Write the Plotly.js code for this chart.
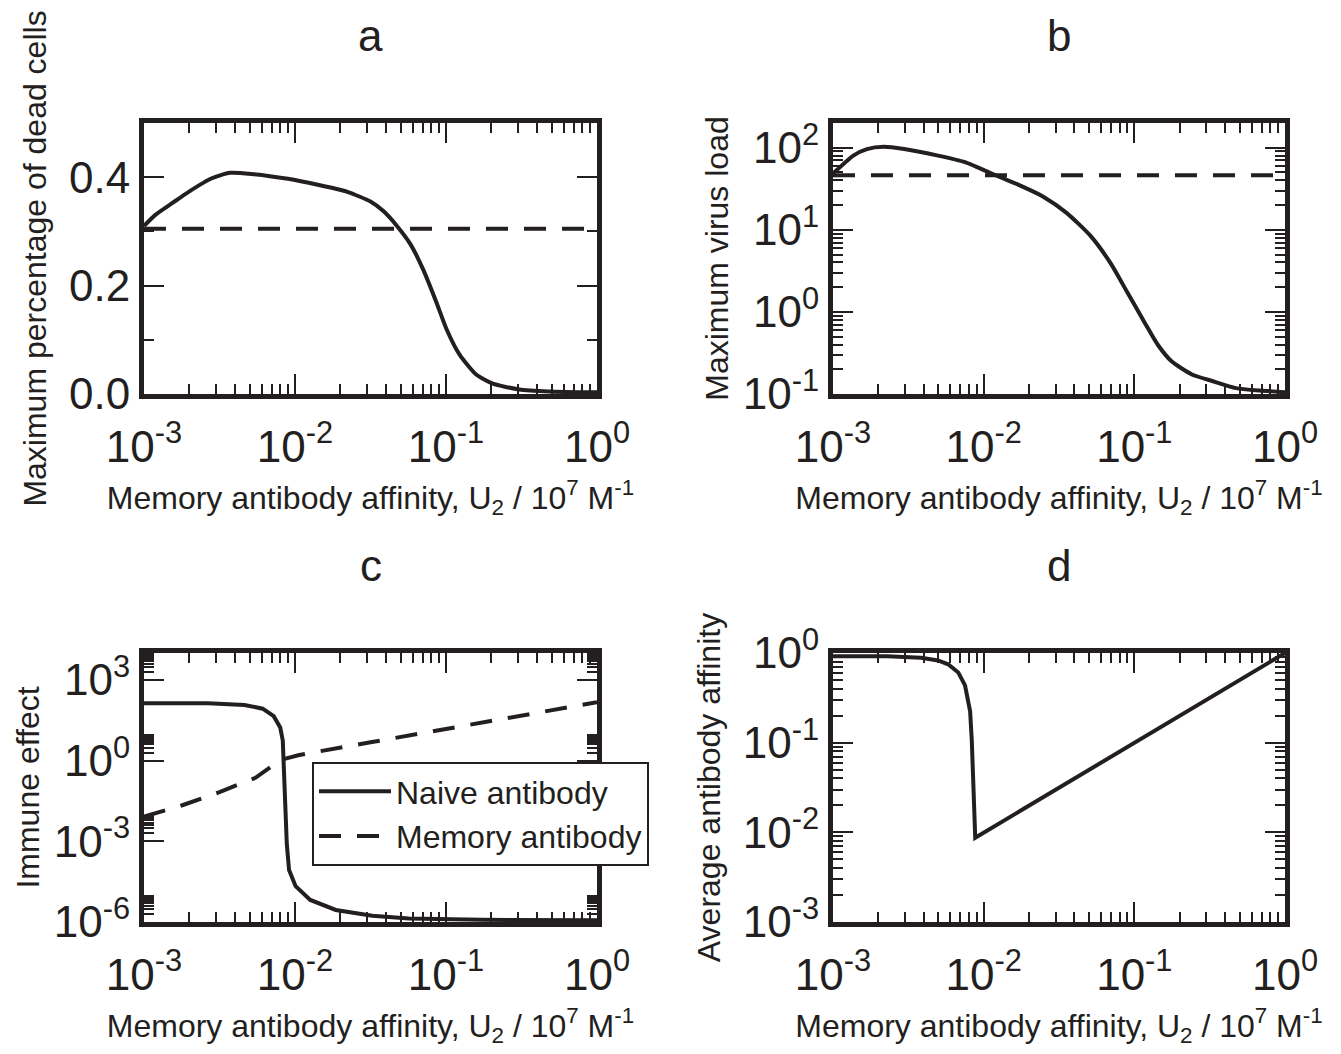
<!DOCTYPE html>
<html>
<head>
<meta charset="utf-8">
<script src="https://cdn.plot.ly/plotly-3.0.1.min.js"></script>
<style>html,body{margin:0;padding:0;background:#fff;}#chart{width:1341px;height:1054px;}</style>
</head>
<body>
<div id="chart"></div>
<script>
// ---------- data ----------
// Panel a: maximum percentage of dead cells
const aX = [0.001, 0.001194, 0.001535, 0.001977, 0.002812, 0.003707, 0.005152, 0.008974, 0.01413, 0.02223, 0.03162, 0.03864, 0.04732, 0.05794, 0.07079, 0.0867, 0.1007, 0.1233, 0.1585, 0.2042, 0.3055, 0.4808, 1.0];
const aY = [0.310, 0.331, 0.352, 0.373, 0.398, 0.408, 0.406, 0.397, 0.386, 0.373, 0.355, 0.337, 0.310, 0.277, 0.229, 0.168, 0.120, 0.072, 0.036, 0.019, 0.0084, 0.0048, 0.003];
const aBaseX = [0.001, 1.0];
const aBaseY = [0.305, 0.305];

// Panel b: maximum virus load
const bX = [0.001, 0.001365, 0.001679, 0.002173, 0.002965, 0.004977, 0.007516, 0.012, 0.01811, 0.02472, 0.03548, 0.05105, 0.06966, 0.09016, 0.1167, 0.1435, 0.1766, 0.241, 0.3289, 0.4721, 0.6776, 1.0];
const bY = [48.4, 80.2, 96.2, 102.6, 96.2, 80.2, 66.7, 46.2, 33.6, 25.5, 16.1, 8.49, 3.90, 1.71, 0.750, 0.395, 0.250, 0.173, 0.144, 0.118, 0.110, 0.105];
const bBaseX = [0.001, 1.0];
const bBaseY = [46.2, 46.2];

// Panel c: immune effect
const cNaiveX = [0.001, 0.002649, 0.004624, 0.006109, 0.007228, 0.007983, 0.008299, 0.008447, 0.008635, 0.008826, 0.009136, 0.01009, 0.01262, 0.01862, 0.03251, 0.05675, 0.1729, 1.0];
const cNaiveY = [134.9, 134.9, 117.5, 85.1, 44.7, 17.0, 5.62, 0.460, 0.0126, 7.76e-4, 8.5e-5, 2.14e-5, 6.6e-6, 2.8e-6, 1.7e-6, 1.35e-6, 1.2e-6, 1.15e-6];
const cMemX = [0.001, 0.001795, 0.003133, 0.00547, 0.00807, 0.01067, 0.03162, 0.1, 0.3162, 1.0];
const cMemY = [0.00832, 0.0219, 0.0661, 0.229, 1.07, 1.62, 4.79, 14.8, 46.8, 148];

// Panel d: average antibody affinity
const dX = [0.001, 0.00229, 0.00384, 0.00498, 0.00581, 0.00678, 0.00752, 0.00813, 0.00834, 0.00879, 1.0];
const dY = [0.92, 0.92, 0.883, 0.826, 0.748, 0.607, 0.435, 0.224, 0.1057, 0.00871, 1.0];

// tick labels
const xTickVals = [0.001, 0.01, 0.1, 1];
const xTickText = ['10<sup>-3</sup>', '10<sup>-2</sup>', '10<sup>-1</sup>', '10<sup>0</sup>'];
const aTickVals = [0, 0.2, 0.4];
const aTickText = ['0.0', '0.2', '0.4'];
const aMinorVals = [0.1, 0.3];
const bTickVals = [0.1, 1, 10, 100];
const bTickText = ['10<sup>-1</sup>', '10<sup>0</sup>', '10<sup>1</sup>', '10<sup>2</sup>'];
const cTickVals = [1e-6, 1e-3, 1, 1e3];
const cTickText = ['10<sup>-6</sup>', '10<sup>-3</sup>', '10<sup>0</sup>', '10<sup>3</sup>'];
const dTickVals = [0.001, 0.01, 0.1, 1];
const dTickText = ['10<sup>-3</sup>', '10<sup>-2</sup>', '10<sup>-1</sup>', '10<sup>0</sup>'];

const xTitle = 'Memory antibody affinity, U<sub>2</sub> / 10<sup>7</sup> M<sup>-1</sup>';
const yTitles = ['Maximum percentage of dead cells', 'Maximum virus load', 'Immune effect', 'Average antibody affinity'];
const panelLabels = ['a', 'b', 'c', 'd'];
const legendNames = ['Naive antibody', 'Memory antibody'];

// ---------- styling ----------
function minorFor(bases) {
  const out = [];
  bases.forEach(b => { for (let k = 2; k <= 9; k++) out.push(+(k * b).toPrecision(6)); });
  return out;
}
const ink = '#231f20';
const fam = 'Liberation Sans, Arial, Helvetica, sans-serif';
const W = 1341, H = 1054;
const colL = [144 / W, 597 / W];
const colR = [833 / W, 1285 / W];
const rowT = [1 - 394 / H, 1 - 123 / H];
const rowB = [1 - 922 / H, 1 - 653 / H];

function xAxis(domain, anchor) {
  return {
    type: 'log', range: [-3, 0], domain: domain, anchor: anchor,
    tickmode: 'array', tickvals: xTickVals, ticktext: xTickText,
    ticks: 'inside', ticklen: 20, tickwidth: 2, tickcolor: ink,
    showline: true, linewidth: 5, linecolor: ink, mirror: 'ticks',
    showgrid: false, zeroline: false, ticklabelstandoff: 10,
    tickfont: {family: fam, size: 44, color: ink},
    minor: {tickmode: 'array', tickvals: minorFor([0.001, 0.01, 0.1]), ticks: 'inside', ticklen: 10, tickwidth: 2, tickcolor: ink, showgrid: false},
    title: {text: xTitle, font: {family: fam, size: 32, color: ink}, standoff: 18}
  };
}
function yAxis(domain, anchor, opts) {
  return Object.assign({
    domain: domain, anchor: anchor,
    tickmode: 'array',
    ticks: 'inside', ticklen: 20, tickwidth: 2, tickcolor: ink,
    showline: true, linewidth: 5, linecolor: ink, mirror: 'ticks',
    showgrid: false, zeroline: false,
    tickfont: {family: fam, size: 44, color: ink}
  }, opts);
}
function minorCfg(vals) {
  return {tickmode: 'array', tickvals: vals, ticks: 'inside', ticklen: 10, tickwidth: 2, tickcolor: ink, showgrid: false};
}
function ttl(t, s) { return {text: t, font: {family: fam, size: 32, color: ink}, standoff: s}; }

const solid = {color: ink, width: 4};
const dashed = {color: ink, width: 4, dash: '22px,16px'};

const traces = [
  {x: aX, y: aY, xaxis: 'x', yaxis: 'y', mode: 'lines', line: Object.assign({shape: 'spline', smoothing: 0.6}, solid), showlegend: false},
  {x: aBaseX, y: aBaseY, xaxis: 'x', yaxis: 'y', mode: 'lines', line: dashed, showlegend: false},
  {x: bX, y: bY, xaxis: 'x2', yaxis: 'y2', mode: 'lines', line: Object.assign({shape: 'spline', smoothing: 0.6}, solid), showlegend: false},
  {x: bBaseX, y: bBaseY, xaxis: 'x2', yaxis: 'y2', mode: 'lines', line: dashed, showlegend: false},
  {x: cNaiveX, y: cNaiveY, xaxis: 'x3', yaxis: 'y3', mode: 'lines', line: solid, name: legendNames[0]},
  {x: cMemX, y: cMemY, xaxis: 'x3', yaxis: 'y3', mode: 'lines', line: dashed, name: legendNames[1]},
  {x: dX, y: dY, xaxis: 'x4', yaxis: 'y4', mode: 'lines', line: solid, showlegend: false}
];

const layout = {
  width: W, height: H,
  margin: {l: 0, r: 0, t: 0, b: 0},
  paper_bgcolor: '#fff', plot_bgcolor: '#fff',
  font: {family: fam, color: ink},
  xaxis: xAxis(colL, 'y'),
  xaxis2: xAxis(colR, 'y2'),
  xaxis3: xAxis(colL, 'y3'),
  xaxis4: xAxis(colR, 'y4'),
  yaxis: yAxis(rowT, 'x', {range: [0, 0.5], tickvals: aTickVals, ticktext: aTickText, minor: minorCfg(aMinorVals), title: ttl(yTitles[0], 14)}),
  yaxis2: yAxis(rowT, 'x2', {type: 'log', range: [-1, Math.log10(200)], tickvals: bTickVals, ticktext: bTickText, minor: minorCfg(minorFor([0.1, 1, 10])), title: ttl(yTitles[1], 6)}),
  yaxis3: yAxis(rowB, 'x3', {type: 'log', range: [-6, 4], tickvals: cTickVals, ticktext: cTickText, minor: minorCfg(minorFor([1e-6, 1e-3, 1, 1e3])), title: ttl(yTitles[2], 6)}),
  yaxis4: yAxis(rowB, 'x4', {type: 'log', range: [-3, 0], tickvals: dTickVals, ticktext: dTickText, minor: minorCfg(minorFor([0.001, 0.01, 0.1])), title: ttl(yTitles[3], 14)}),
  legend: {
    x: 312 / W, y: 1 - 762 / H, xanchor: 'left', yanchor: 'top',
    bgcolor: '#fff', bordercolor: ink, borderwidth: 2,
    font: {family: fam, size: 32, color: ink}, itemwidth: 72, tracegroupgap: 0
  },
  annotations: [
    {text: panelLabels[0], xref: 'paper', yref: 'paper', x: (colL[0] + colL[1]) / 2, y: 1 - 35 / H, showarrow: false, xanchor: 'center', yanchor: 'middle', font: {family: fam, size: 44, color: ink}},
    {text: panelLabels[1], xref: 'paper', yref: 'paper', x: (colR[0] + colR[1]) / 2, y: 1 - 35 / H, showarrow: false, xanchor: 'center', yanchor: 'middle', font: {family: fam, size: 44, color: ink}},
    {text: panelLabels[2], xref: 'paper', yref: 'paper', x: (colL[0] + colL[1]) / 2, y: 1 - 565 / H, showarrow: false, xanchor: 'center', yanchor: 'middle', font: {family: fam, size: 44, color: ink}},
    {text: panelLabels[3], xref: 'paper', yref: 'paper', x: (colR[0] + colR[1]) / 2, y: 1 - 565 / H, showarrow: false, xanchor: 'center', yanchor: 'middle', font: {family: fam, size: 44, color: ink}}
  ]
};

Plotly.newPlot('chart', traces, layout, {staticPlot: true, displayModeBar: false});
</script>
</body>
</html>
